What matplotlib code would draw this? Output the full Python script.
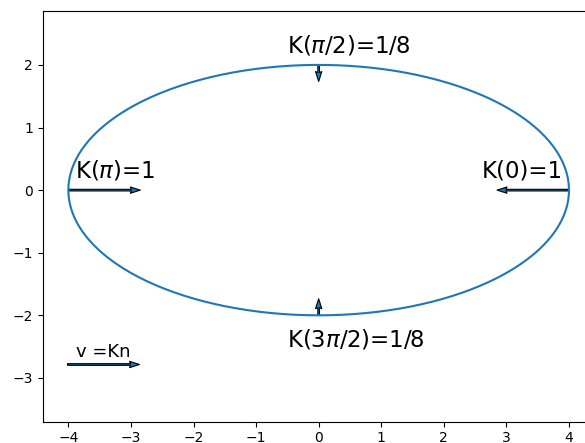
import numpy as np
import matplotlib
matplotlib.use("Agg")
import matplotlib.pyplot as plt

# Ellipse parameters
a_axis = 4
b_axis = 2
t = np.linspace(0, 2 * np.pi, 400)

# Curvature vectors at the four vertices (as drawn)
px = [4, 0, -4, 0]
py = [0, 2, 0, -2]
u = [-1, 0, 1, 0]
v = [0, -0.23, 0, 0.23]

labels = ["K(0)=1", r"K($\pi$/2)=1/8", r"K($\pi$)=1", r"K(3$\pi$/2)=1/8"]
label_x = [2.6, -0.5, -3.9, -0.5]
label_y = [0.2, 2.2, 0.2, -2.5]

fig = plt.figure(figsize=(5.85, 4.43), dpi=100)
ax = fig.add_axes([0.073, 0.048, 0.9424, 0.927])
ax.plot(a_axis * np.cos(t), b_axis * np.sin(t), color="C0", lw=1.5)
Q = ax.quiver(px, py, u, v, angles="xy", scale_units="xy", scale=0.87,
              width=0.003, headwidth=3.8, headlength=6, headaxislength=5.4,
              color="C0", edgecolor="k", linewidth=0.8)
ax.quiverkey(Q, -3.44, -2.78, 1, "v =Kn", labelpos="N", coordinates="data",
             labelsep=0.03, fontproperties={"size": 13})
for lx, ly, s in zip(label_x, label_y, labels):
    ax.text(lx, ly, s, fontsize=16.5)
ax.set_xlim(-4.41, 4.4)
ax.set_ylim(-3.70, 2.86)
ax.set_xticks(range(-4, 5))
ax.set_yticks(range(-3, 3))
fig.savefig("out.png", dpi=100)
